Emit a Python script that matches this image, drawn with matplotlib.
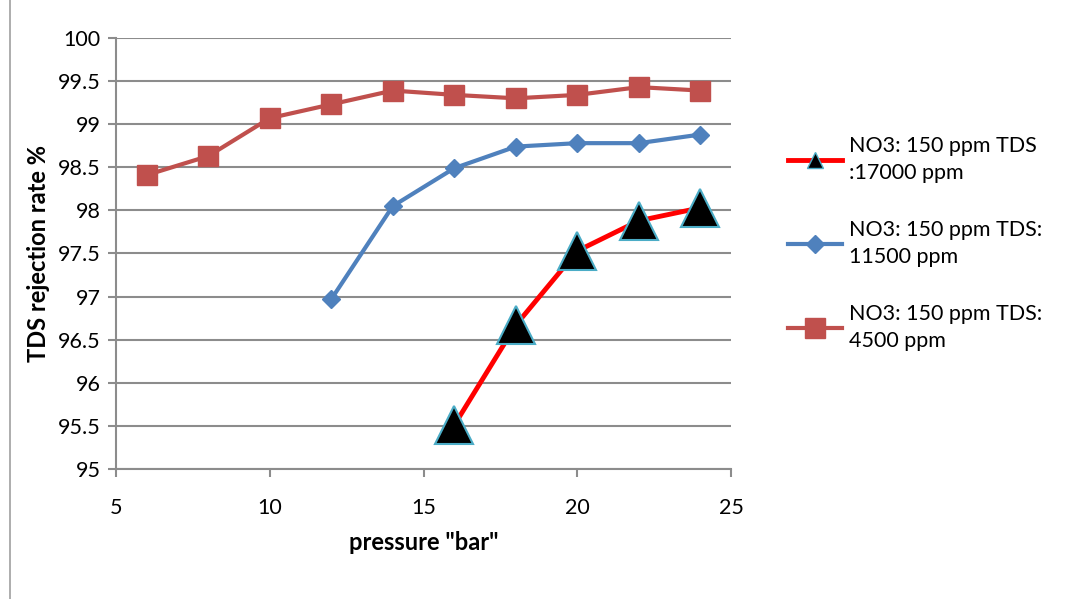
import matplotlib.pyplot as plt
from matplotlib.lines import Line2D

plt.rcParams['font.family'] = ['Lato', 'DejaVu Sans']

# pressure (bar) and TDS rejection (%)
p_17000 = [16, 18, 20, 22, 24]
r_17000 = [95.51, 96.67, 97.53, 97.88, 98.03]

p_11500 = [12, 14, 16, 18, 20, 22, 24]
r_11500 = [96.97, 98.05, 98.49, 98.74, 98.78, 98.78, 98.88]

p_4500 = [6, 8, 10, 12, 14, 16, 18, 20, 22, 24]
r_4500 = [98.41, 98.63, 99.07, 99.23, 99.39, 99.34, 99.30, 99.34, 99.43, 99.39]

labels = ['NO3: 150 ppm TDS\n:17000 ppm',
          'NO3: 150 ppm TDS:\n11500 ppm',
          'NO3: 150 ppm TDS:\n4500 ppm']

fig = plt.figure(figsize=(10.68, 5.99), dpi=100)
# chart-area border (only the left edge is visible in the original)
fig.add_artist(Line2D([0.0095, 0.0095], [0, 1], transform=fig.transFigure,
                      color='#a0a0a0', lw=1.2))
ax = fig.add_axes([0.1086, 0.217, 0.576, 0.7196])

ax.plot(p_4500, r_4500, color='#C0504D', lw=3, marker='s', ms=14,
        mfc='#C0504D', mec='#C0504D', zorder=3)
ax.plot(p_11500, r_11500, color='#4F81BD', lw=3, marker='D', ms=9,
        mfc='#4F81BD', mec='#4F81BD', zorder=3)
ax.plot(p_17000, r_17000, color='#FF0000', lw=3.5, marker='^', ms=27,
        mfc='black', mec='#4BACC6', mew=1.5, zorder=4)

ax.set_xlim(5, 25)
ax.set_ylim(95, 100)
ax.set_xticks([5, 10, 15, 20, 25])
ax.set_yticks([95, 95.5, 96, 96.5, 97, 97.5, 98, 98.5, 99, 99.5, 100])
ax.set_yticklabels(['95', '95.5', '96', '96.5', '97', '97.5', '98', '98.5', '99', '99.5', '100'])
ax.grid(axis='y', color='#8c8c8c', lw=1.5)
ax.set_axisbelow(True)
for s in ['top', 'right']:
    ax.spines[s].set_visible(False)
for s in ['left', 'bottom']:
    ax.spines[s].set_color('#8c8c8c')
    ax.spines[s].set_linewidth(1.5)
ax.tick_params(axis='both', colors='#8c8c8c', width=1.5, length=6, labelsize=15.5,
               labelcolor='black')
ax.tick_params(axis='x', pad=15)
ax.tick_params(axis='y', pad=5)
ax.set_xlabel('pressure "bar"', fontsize=17, fontweight='bold', labelpad=9)
ax.set_ylabel('TDS rejection rate %', fontsize=17, fontweight='bold', labelpad=6)

handles = [
    Line2D([], [], color='#FF0000', lw=3.5, marker='^', ms=12, mfc='black', mec='#4BACC6'),
    Line2D([], [], color='#4F81BD', lw=3, marker='D', ms=9, mfc='#4F81BD', mec='#4F81BD'),
    Line2D([], [], color='#C0504D', lw=3, marker='s', ms=14, mfc='#C0504D', mec='#C0504D'),
]
leg = fig.legend(handles, labels, loc='upper left', bbox_to_anchor=(0.72, 0.805),
                 frameon=False, fontsize=15.5, handlelength=2.5, handletextpad=0.3,
                 labelspacing=1.75)
for t in leg.get_texts():
    t.set_linespacing(1.4)

fig.savefig('out.png', dpi=100)
